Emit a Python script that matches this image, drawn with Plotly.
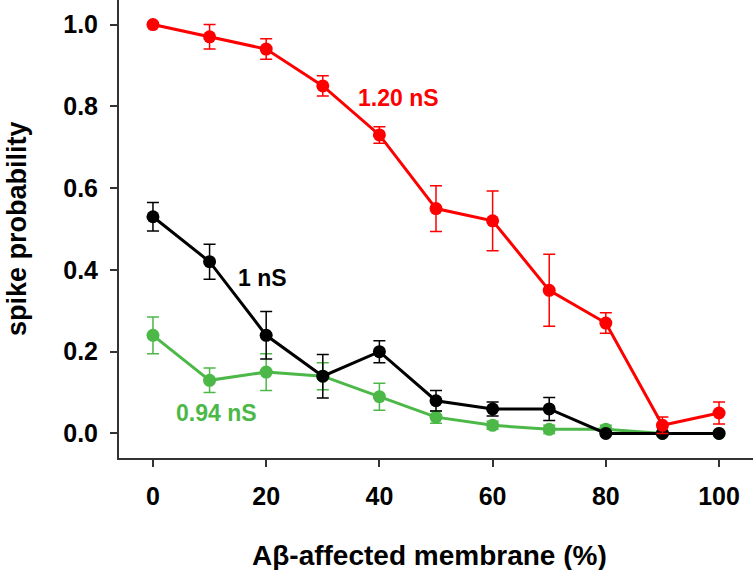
import plotly.graph_objects as go

# Aβ-affected membrane (%)
membrane = [0, 10, 20, 30, 40, 50, 60, 70, 80, 90, 100]

# spike probability per conductance
p_120 = [1.00, 0.97, 0.94, 0.85, 0.73, 0.55, 0.52, 0.35, 0.27, 0.02, 0.05]
err_120 = [0.0, 0.03, 0.025, 0.025, 0.02, 0.056, 0.073, 0.088, 0.025, 0.02, 0.027]

p_100 = [0.53, 0.42, 0.24, 0.14, 0.20, 0.08, 0.06, 0.06, 0.0, 0.0, 0.0]
err_100 = [0.035, 0.043, 0.058, 0.053, 0.027, 0.025, 0.017, 0.028, 0.0, 0.0, 0.0]

p_094 = [0.24, 0.13, 0.15, 0.14, 0.09, 0.04, 0.02, 0.01, 0.01, 0.0, 0.0]
err_094 = [0.045, 0.03, 0.045, 0.033, 0.033, 0.015, 0.01, 0.01, 0.01, 0.0, 0.0]

series = [
    ("0.94 nS", p_094, err_094, "#4cb848"),
    ("1 nS", p_100, err_100, "#000000"),
    ("1.20 nS", p_120, err_120, "#ff0000"),
]

FONT = "Liberation Sans, Arial, sans-serif"

fig = go.Figure()
for name, y, err, color in series:
    fig.add_trace(go.Scatter(
        x=membrane, y=y, name=name, mode="lines+markers",
        line=dict(color=color, width=3),
        marker=dict(color=color, size=13),
        error_y=dict(type="data", array=err, visible=True,
                     color=color, thickness=1.5, width=6),
        showlegend=False,
    ))

# series labels
labels = [
    ("1.20 nS", 43.4, 0.82, "#ff0000"),
    ("1 nS", 19.3, 0.38, "#000000"),
    ("0.94 nS", 11.3, 0.05, "#4cb848"),
]
for text, lx, ly, color in labels:
    fig.add_annotation(x=lx, y=ly, text=f"<b>{text}</b>", showarrow=False,
                       font=dict(family=FONT, size=23, color=color))

# axis titles
fig.add_annotation(xref="paper", yref="paper", x=0.49, y=0, yshift=-97,
                   text="<b>Aβ-affected membrane (%)</b>", showarrow=False,
                   yanchor="middle", font=dict(family=FONT, size=28, color="black"))
fig.add_annotation(xref="paper", yref="paper", x=0, y=0.5, xshift=-102,
                   text="<b>spike probability</b>", showarrow=False, textangle=-90,
                   xanchor="center", font=dict(family=FONT, size=27, color="black"))

fig.update_layout(
    width=756, height=570,
    margin=dict(l=119, r=3, t=0, b=112),
    paper_bgcolor="white", plot_bgcolor="white",
    font=dict(family=FONT, color="black"),
    xaxis=dict(
        range=[-6, 106], tickvals=[0, 20, 40, 60, 80, 100],
        showline=True, linecolor="#333", linewidth=2,
        ticks="outside", ticklen=7, tickwidth=1.5, tickcolor="#333",
        showgrid=False, zeroline=False, automargin=False,
        tickfont=dict(family=FONT, size=25, weight="bold"),
        ticklabelstandoff=8,
    ),
    yaxis=dict(
        range=[-0.06, 1.06], tickvals=[0, 0.2, 0.4, 0.6, 0.8, 1.0],
        tickformat=".1f",
        showline=True, linecolor="#333", linewidth=2,
        ticks="outside", ticklen=7, tickwidth=1.5, tickcolor="#333",
        showgrid=False, zeroline=False, automargin=False,
        tickfont=dict(family=FONT, size=25, weight="bold"),
        ticklabelstandoff=7,
    ),
)

# drop the default 8px body margin so the figure sits at the page corner
fig.write_html("out.html", config={"displayModeBar": False},
               post_script="document.body.style.margin='0';")
